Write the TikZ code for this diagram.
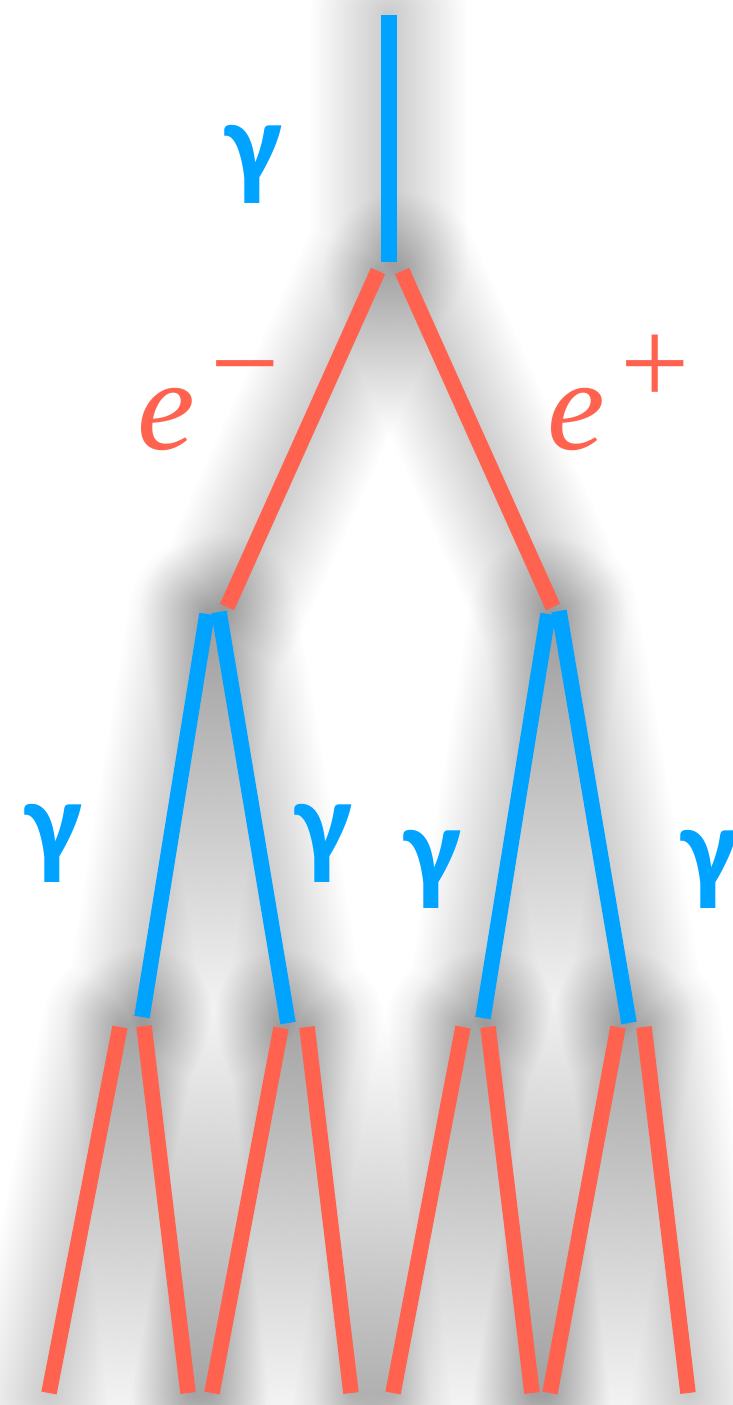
\documentclass[tikz,border=0pt]{standalone}
\usepackage{fontspec}
\setmainfont{Liberation Serif}
\newfontfamily\gfont{Carlito}
\definecolor{phot}{RGB}{0,163,255}
\definecolor{lept}{RGB}{255,99,79}
\begin{document}
\begin{tikzpicture}[x=1pt,y=-1pt,
  gam/.style={text=phot,font=\gfont\bfseries\fontsize{121}{121}\selectfont,inner sep=0pt},
  lab/.style={text=lept,inner sep=0pt,anchor=base west},
  phline/.style={draw=phot,line width=15.5pt},
  lpline/.style={draw=lept,line width=15.5pt},
  shad/.style={draw=black,line cap=round,line join=round,opacity=0.0075}]
\fill[white] (0,0) rectangle (733,1405);
\useasboundingbox (0,0) rectangle (733,1405);
% endpoints
\coordinate (g0a) at (389,15);  \coordinate (g0b) at (389,262);
\coordinate (ema) at (378,271); \coordinate (emb) at (227,607);
\coordinate (epa) at (402,271); \coordinate (epb) at (553,607);
\coordinate (g1a) at (207,614); \coordinate (g1b) at (142,1017);
\coordinate (g2a) at (219,612); \coordinate (g2b) at (288,1023);
\coordinate (g3a) at (548,614); \coordinate (g3b) at (483,1018);
\coordinate (g4a) at (559,611); \coordinate (g4b) at (629,1023);
\coordinate (r1a) at (120,1027); \coordinate (r1b) at (49,1393);
\coordinate (r2a) at (144,1026); \coordinate (r2b) at (188,1393);
\coordinate (r3a) at (281,1028); \coordinate (r3b) at (212,1393);
\coordinate (r4a) at (307,1027); \coordinate (r4b) at (351,1393);
\coordinate (r5a) at (463,1027); \coordinate (r5b) at (393,1393);
\coordinate (r6a) at (488,1027); \coordinate (r6b) at (532,1393);
\coordinate (r7a) at (618,1027); \coordinate (r7b) at (550,1393);
\coordinate (r8a) at (644,1027); \coordinate (r8b) at (688,1393);
% soft shadows: two groups, one stroke per layer and group
\foreach \w in {6,12,...,156}{
  \draw[shad,line width=\w pt]
    (g0a) -- (g0b) (ema) -- (emb) (g1a) -- (g1b) (g3a) -- (g3b)
    (r1a) -- (r1b) (r3a) -- (r3b) (r5a) -- (r5b) (r7a) -- (r7b);
  \draw[shad,line width=\w pt]
    (epa) -- (epb) (g2a) -- (g2b) (g4a) -- (g4b)
    (r2a) -- (r2b) (r4a) -- (r4b) (r6a) -- (r6b) (r8a) -- (r8b);
}
% segments
\draw[phline] (g0a) -- (g0b);
\draw[lpline] (ema) -- (emb);
\draw[lpline] (epa) -- (epb);
\draw[phline] (g1a) -- (g1b);
\draw[phline] (g2a) -- (g2b);
\draw[phline] (g3a) -- (g3b);
\draw[phline] (g4a) -- (g4b);
\draw[lpline] (r1a) -- (r1b);
\draw[lpline] (r2a) -- (r2b);
\draw[lpline] (r3a) -- (r3b);
\draw[lpline] (r4a) -- (r4b);
\draw[lpline] (r5a) -- (r5b);
\draw[lpline] (r6a) -- (r6b);
\draw[lpline] (r7a) -- (r7b);
\draw[lpline] (r8a) -- (r8b);
% labels
\node[gam] (l0) at (253.5,164.5) {γ};
\node[gam] (l1) at (53.5,843) {γ};
\node[gam] (l2) at (323.5,843) {γ};
\node[gam] (l3) at (433,869) {γ};
\node[gam] (l4) at (710,869) {γ};
\node[lab] (lm) at (137,449) {\fontsize{130}{130}\selectfont\textit{e}\kern 16pt\raisebox{45pt}{\fontsize{123}{123}\selectfont −}};
\node[lab] (lp) at (547,449) {\fontsize{130}{130}\selectfont\textit{e}\kern 16pt\raisebox{45pt}{\fontsize{123}{123}\selectfont +}};
\end{tikzpicture}
\end{document}
